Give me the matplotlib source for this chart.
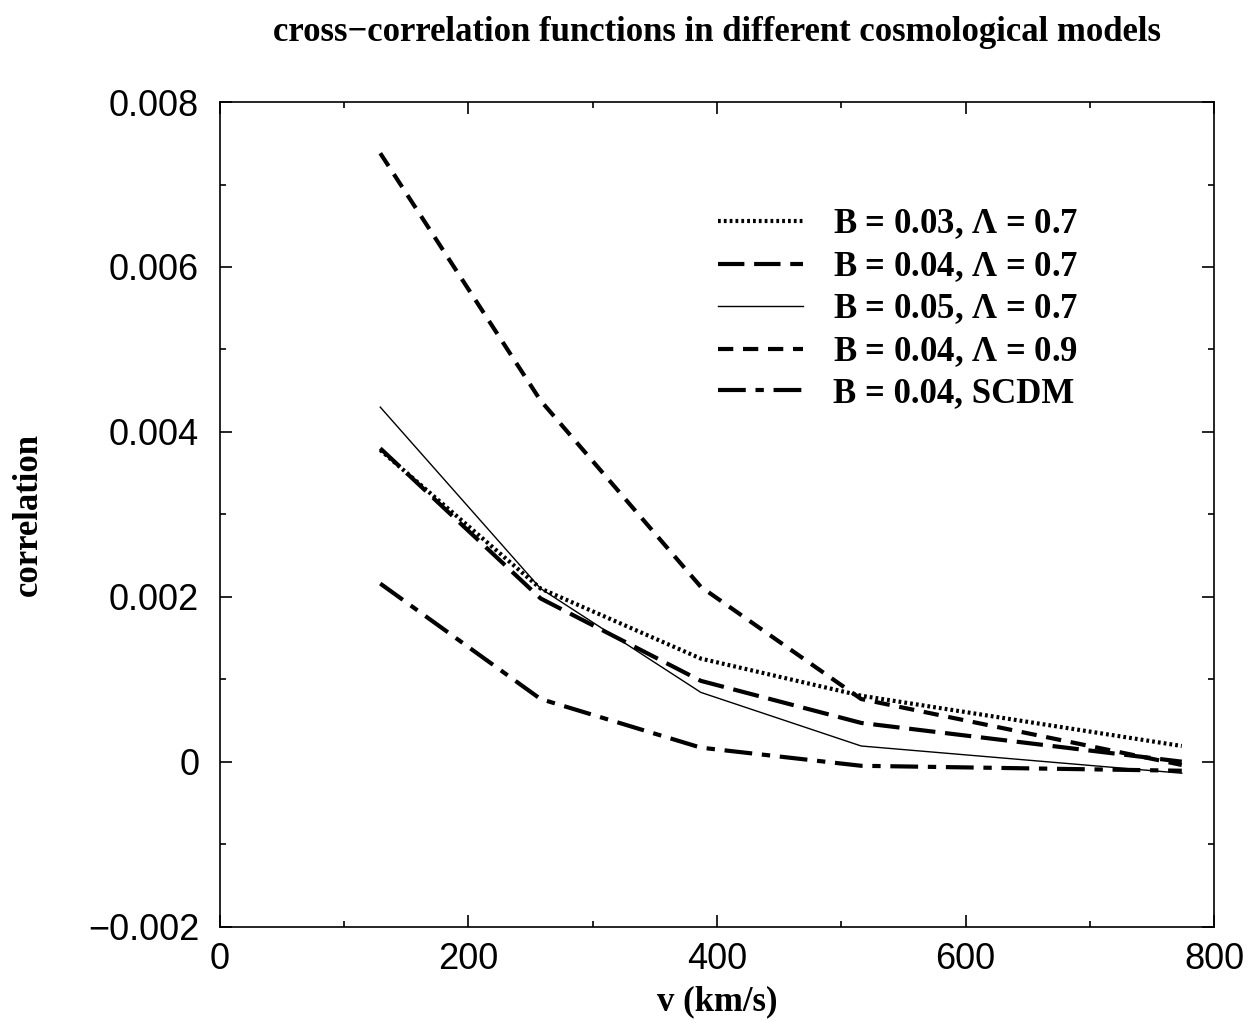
import matplotlib
matplotlib.use("Agg")
import matplotlib.pyplot as plt
from matplotlib.ticker import MultipleLocator, FuncFormatter

# velocity bins (km/s)
v = [129, 258, 387, 516, 774]

# cross-correlation values per model
b03_l07 = [0.00378, 0.00210, 0.00125, 0.00080, 0.00019]
b04_l07 = [0.00380, 0.00198, 0.00098, 0.00047, 0.00000]
b05_l07 = [0.00430, 0.00210, 0.00084, 0.00019, -0.00014]
b04_l09 = [0.00738, 0.00438, 0.00212, 0.00076, -0.00004]
b04_scdm = [0.00216, 0.00076, 0.00017, -0.00005, -0.00011]

labels = [r"B = 0.03, $\mathbf{\Lambda}$ = 0.7",
          r"B = 0.04, $\mathbf{\Lambda}$ = 0.7",
          r"B = 0.05, $\mathbf{\Lambda}$ = 0.7",
          r"B = 0.04, $\mathbf{\Lambda}$ = 0.9",
          "B = 0.04, SCDM"]

plt.rcParams['lines.scale_dashes'] = False
plt.rcParams['mathtext.fontset'] = 'custom'
plt.rcParams['mathtext.bf'] = 'Liberation Serif:bold'
plt.rcParams['mathtext.rm'] = 'Liberation Serif'

fig = plt.figure(figsize=(12.47, 10.21), dpi=100)
ax = fig.add_axes([0.1764, 0.0925, 0.7972, 0.8075])

serif = {'family': 'Liberation Serif', 'weight': 'bold'}

ax.plot(v, b03_l07, color='black', lw=3.0, linestyle=(0, (2.0, 2.2)), label=labels[0])
ax.plot(v, b04_l07, color='black', lw=3.0, linestyle=(0, (19, 7)), label=labels[1])
ax.plot(v, b05_l07, color='black', lw=1.0, linestyle='-', label=labels[2])
ax.plot(v, b04_l09, color='black', lw=3.0, linestyle=(0, (11, 7)), label=labels[3])
ax.plot(v, b04_scdm, color='black', lw=3.0, linestyle=(0, (20, 7, 6, 7)), label=labels[4])

ax.set_xlim(0, 800)
ax.set_ylim(-0.002, 0.008)
ax.xaxis.set_major_locator(MultipleLocator(200))
ax.xaxis.set_minor_locator(MultipleLocator(100))
ax.yaxis.set_major_locator(MultipleLocator(0.002))
ax.yaxis.set_minor_locator(MultipleLocator(0.001))


def fmt_y(val, pos):
    if abs(val) < 1e-12:
        return "0"
    return f"{val:.3f}".replace("-", "\u2212")


ax.yaxis.set_major_formatter(FuncFormatter(fmt_y))
ax.tick_params(which='both', direction='in', top=True, right=True,
               labelsize=26, width=1.2)
ax.tick_params(axis='x', pad=11)
ax.tick_params(axis='y', pad=15)
ax.tick_params(which='major', length=8.5)
ax.tick_params(which='minor', length=4.3)
for lab in ax.get_xticklabels() + ax.get_yticklabels():
    lab.set_family('Liberation Sans')
for sp in ax.spines.values():
    sp.set_linewidth(1.2)

ax.set_title("cross\u2212correlation functions in different cosmological models",
             fontdict=serif, fontsize=25, pad=44)
ax.set_xlabel("v (km/s)", fontdict=serif, fontsize=25, labelpad=6)
ax.set_ylabel("correlation", fontdict=serif, fontsize=25, labelpad=31)

leg = ax.legend(loc='upper right', bbox_to_anchor=(0.895, 0.91), frameon=False,
                handlelength=2.45, handletextpad=0.86, labelspacing=0.25,
                prop={'family': 'Liberation Serif', 'weight': 'bold', 'size': 25})

fig.savefig("out.png", dpi=100)
